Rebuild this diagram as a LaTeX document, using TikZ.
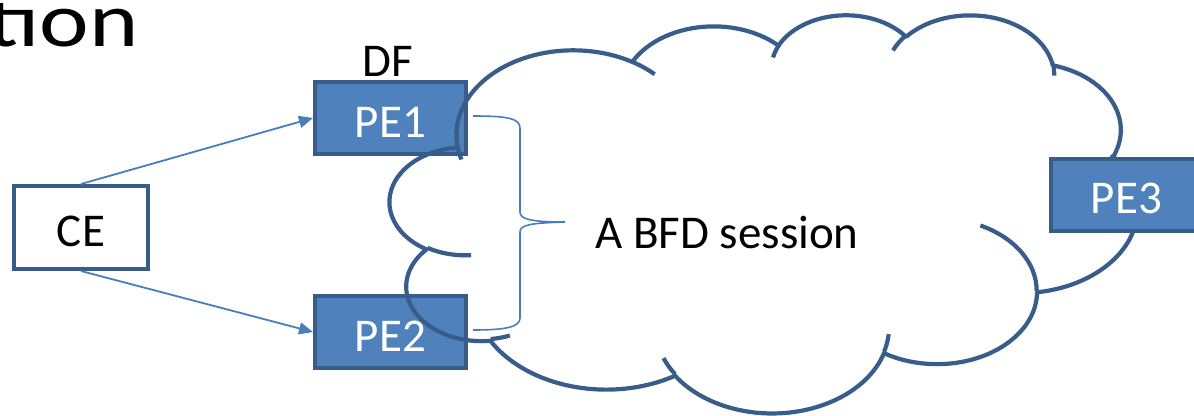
\documentclass[tikz,border=0pt]{standalone}
\usepackage{fontspec}
\setmainfont{Carlito}
\usetikzlibrary{arrows.meta}
\definecolor{boxfill}{HTML}{4F81BD}
\definecolor{boxline}{HTML}{385D8A}
\definecolor{arrowc}{HTML}{4A7EBB}
\newcommand\cldcalc[5]{%
  \pgfmathsetmacro\cldtmpa{#4}%
  \pgfmathsetmacro\cldtmpb{#4+#5}%
  \pgfmathparse{atan2(#2*sin(\cldtmpa),#3*cos(\cldtmpa))-\cldtmpa}%
  \pgfmathsetmacro\cldda{mod(\pgfmathresult+540,360)-180}%
  \pgfmathparse{atan2(#2*sin(\cldtmpb),#3*cos(\cldtmpb))-\cldtmpb}%
  \pgfmathsetmacro\clddb{mod(\pgfmathresult+540,360)-180}%
  \pgfmathsetmacro\cldts{\cldtmpa+\cldda}%
  \pgfmathsetmacro\cldte{\cldtmpb+\clddb}%
  \expandafter\xdef\csname cld#1s\endcsname{\cldts}%
  \expandafter\xdef\csname cld#1e\endcsname{\cldte}%
}
\cldcalc{A}{6753}{9190}{-190.48748}{123.78053}
\cldcalc{B}{5333}{7267}{-144.10238}{89.94523}
\cldcalc{C}{4365}{5945}{-145.80792}{99.72302}
\cldcalc{D}{4857}{6595}{-130.98607}{117.24173}
\cldcalc{E}{5333}{7273}{-78.70888}{109.02692}
\cldcalc{F}{6775}{9220}{-46.26725}{130.269}
\cldcalc{G}{5785}{7867}{0.62502}{114.03333}
\cldcalc{H}{6752}{9215}{22.4516}{115.17255}
\cldcalc{I}{7720}{10543}{66.24263}{75.71102}
\cldcalc{J}{4360}{5918}{-274.94208}{146.73557}
\cldcalc{K}{4345}{5945}{-246.8285}{152.51885}
\cldcalc{a}{4345}{5945}{86.742}{26.4295}
\cldcalc{b}{4360}{5918}{73.61047}{11.44747}
\cldcalc{c}{6752}{9215}{137.62415}{14.0811}
\cldcalc{d}{6752}{9215}{6.45327}{15.99835}
\cldcalc{e}{5785}{7867}{-70.29235}{70.91737}
\cldcalc{f}{5333}{7273}{30.31803}{27.7515}
\cldcalc{g}{4857}{6595}{-13.74433}{14.8589}
\cldcalc{h}{4857}{6595}{-149.18145}{18.19537}
\cldcalc{i}{4365}{5945}{-163.49427}{17.68635}
\cldcalc{j}{6753}{9190}{-66.70695}{12.31935}
\cldcalc{k}{6753}{9190}{157.65435}{11.85817}
\tikzset{
  box/.style={draw=boxline, line width=4pt, fill=boxfill, text=white,
    minimum width=151pt, minimum height=72pt, inner sep=0pt,
    font=\fontsize{47}{50}\selectfont, text height=38pt, text depth=0pt},
  cebox/.style={box, fill=white, text=black, minimum width=134pt, minimum height=83pt},
  conn/.style={draw=arrowc, line width=1.8pt, -{Triangle[length=14pt,width=12pt]}},
  cloudline/.style={draw=boxline, line width=4.2pt, line join=round},
  bigtext/.style={font=\fontsize{47}{50}\selectfont, inner sep=0pt},
}
\begin{document}
\begin{tikzpicture}[x=1pt,y=-1pt]
\useasboundingbox (0,0) rectangle (1194,415);
% title fragment (cut by the page edges, as in the reference)
\begin{scope}
\clip (0,3.5) rectangle (200,70);
\node[font=\fontsize{77}{80}\selectfont, inner sep=0pt, anchor=base east, xscale=1.22] (title) at (139,46) {tion};
\end{scope}
% boxes
\node[cebox] (ce) at (81,227.5) {CE};
\node[box] (pe1) at (390.5,118) {PE1};
\node[box] (pe2) at (390.5,332) {PE2};
\node[bigtext, anchor=base] (df) at (388,76) {DF};
% arrows
\draw[conn] (ce.north) -- (pe1.west);
\draw[conn] (ce.south) -- (pe2.west);
% cloud
\begin{scope}[shift={(390,14)}, x=1.7299pt, y=-0.9213pt]
\draw[cloudline] (39.00,143.70)
  arc[x radius=67.53, y radius=91.90, start angle=\cldAs, end angle=\cldAe]
  arc[x radius=53.33, y radius=72.67, start angle=\cldBs, end angle=\cldBe]
  arc[x radius=43.65, y radius=59.45, start angle=\cldCs, end angle=\cldCe]
  arc[x radius=48.57, y radius=65.95, start angle=\cldDs, end angle=\cldDe]
  arc[x radius=53.33, y radius=72.73, start angle=\cldEs, end angle=\cldEe]
  arc[x radius=67.75, y radius=92.20, start angle=\cldFs, end angle=\cldFe]
  arc[x radius=57.85, y radius=78.67, start angle=\cldGs, end angle=\cldGe]
  arc[x radius=67.52, y radius=92.15, start angle=\cldHs, end angle=\cldHe]
  arc[x radius=77.20, y radius=105.43, start angle=\cldIs, end angle=\cldIe]
  arc[x radius=43.60, y radius=59.18, start angle=\cldJs, end angle=\cldJe]
  arc[x radius=43.45, y radius=59.45, start angle=\cldKs, end angle=\cldKe]
  -- cycle;
\draw[draw=boxline, line width=4.2pt]
  (46.93,261.77) arc[x radius=43.45, y radius=59.45, start angle=\cldas, end angle=\cldae]
  (69.28,348.99) arc[x radius=43.60, y radius=59.18, start angle=\cldbs, end angle=\cldbe]
  (164.78,390.90) arc[x radius=67.52, y radius=92.15, start angle=\cldcs, end angle=\cldce]
  (288.27,347.51) arc[x radius=67.52, y radius=92.15, start angle=\cldds, end angle=\cldde]
  (341.29,229.54) arc[x radius=57.85, y radius=78.67, start angle=\cldes, end angle=\cldee]
  (417.98,153.54) arc[x radius=53.33, y radius=72.73, start angle=\cldfs, end angle=\cldfe]
  (383.24,54.26) arc[x radius=48.57, y radius=65.95, start angle=\cldgs, end angle=\cldge]
  (290.78,39.52) arc[x radius=48.57, y radius=65.95, start angle=\cldhs, end angle=\cldhe]
  (221.41,47.20) arc[x radius=43.65, y radius=59.45, start angle=\cldis, end angle=\cldie]
  (140.00,51.92) arc[x radius=67.53, y radius=91.90, start angle=\cldjs, end angle=\cldje]
  (41.27,157.89) arc[x radius=67.53, y radius=91.90, start angle=\cldks, end angle=\cldke];
\end{scope}
\node[box] (pe3) at (1126.5,194.5) {PE3};
% brace
\draw[draw=arrowc, line width=1.6pt] (473,116) .. controls (506,116) and (520,118) .. (520,128)
  -- (520,212) .. controls (520,219) and (530,222) .. (565,222)
  .. controls (530,223) and (520,225) .. (520,232)
  -- (520,318) .. controls (520,327) and (506,330) .. (473,330);
\node[bigtext, anchor=base] (bfd) at (727,248) {A BFD session};
\end{tikzpicture}
\end{document}
